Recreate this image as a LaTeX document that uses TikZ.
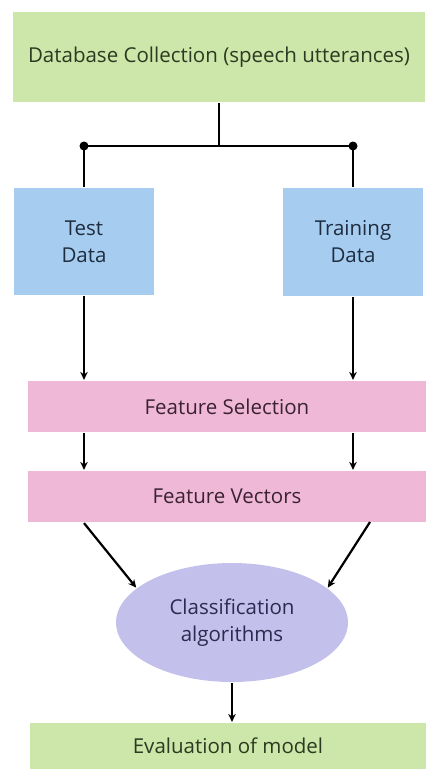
\documentclass[tikz,border=0pt]{standalone}
\usepackage{fontspec}
\setmainfont{Open Sans}
\usetikzlibrary{shapes.geometric,arrows.meta}
\definecolor{boxgreen}{HTML}{CDE6A9}
\definecolor{boxblue}{HTML}{A6CDF0}
\definecolor{boxpink}{HTML}{EFB8D7}
\definecolor{boxlilac}{HTML}{C4C0EC}
\definecolor{txtgreen}{HTML}{2C3A22}
\definecolor{txtblue}{HTML}{1E2C40}
\definecolor{txtpink}{HTML}{3A2233}
\definecolor{txtlilac}{HTML}{2B2A50}
\begin{document}
\begin{tikzpicture}
  [x=1pt, y=-1pt, line width=2.2pt, >={Stealth[length=8pt,width=7.5pt]},
    every box/.style={
      rectangle,
      draw=none,
      inner sep=0pt,
      align=center,
      font=\fontsize{20.5}{27}\selectfont
    },
    box green/.style={fill=boxgreen, text=txtgreen},
    box blue/.style={fill=boxblue, text=txtblue},
    box pink/.style={fill=boxpink, text=txtpink},
    junction/.style={circle, fill=black, inner sep=0pt, minimum size=9pt}
  ]
\useasboundingbox (0,0) rectangle (426,769);

% Draw the boxes
\node [every box, box green, minimum width=412pt, minimum height=90pt]
  (dbase) at (219,57) {Database Collection (speech utterances)};
\node [every box, box blue, minimum width=140pt, minimum height=107pt]
  (test) at (84,241.5) {Test\\Data};
\node [every box, box blue, minimum width=140pt, minimum height=108pt]
  (train) at (353,242) {Training\\Data};
\foreach \n/\t/\y in {fsel/Feature Selection/406.5, fvec/Feature Vectors/496.5}
  \node [every box, box pink, minimum width=398pt, minimum height=51pt]
    (\n) at (227,\y) {\t};
\node [every box, ellipse, fill=boxlilac, text=txtlilac,
  minimum width=232pt, minimum height=119pt]
  (cls) at (232,622.5) {Classification\\algorithms};
\node [every box, box green, minimum width=396pt, minimum height=46pt]
  (eval) at (228,746) {Evaluation of model};

% Split the collection into test and training data
\coordinate (split) at (dbase.south |- 0,146);
\node [junction] (jl) at (test.north |- split) {};
\node [junction] (jr) at (train.north |- split) {};
\draw (dbase.south) -- (split);
\draw (jl.center) -- (jr.center);
\draw (jl.center) -- (test.north);
\draw (jr.center) -- (train.north);

% Connect data with feature selection and vectors
\foreach \s in {test,train} {
  \draw [->] (\s.south) -- (\s.south |- fsel.north);
  \draw [->] (\s.south |- fsel.south) -- (\s.south |- fvec.north);
}

% Connect feature vectors with classification
\coordinate (vl) at (test.south |- fvec.south);
\coordinate (vr) at (370,522);
\draw [->] (vl) -- (cls.160);
\draw [->] (vr) -- (cls.20);
\draw [->] (cls.south) -- (cls.south |- eval.north);
\end{tikzpicture}
\end{document}
